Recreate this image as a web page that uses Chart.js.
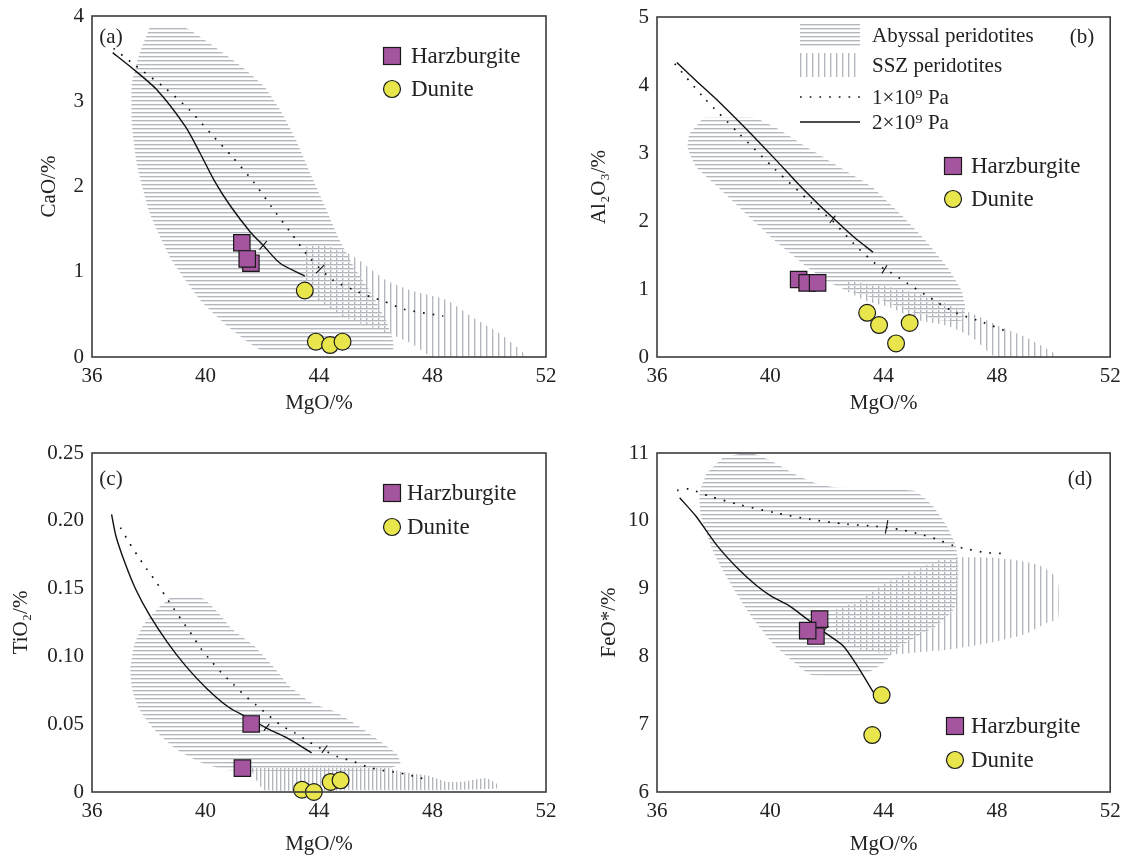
<!DOCTYPE html>
<html><head><meta charset="utf-8">
<script src="https://cdn.jsdelivr.net/npm/chart.js@4.4.1/dist/chart.umd.min.js"></script>
<style>
html,body{margin:0;padding:0;background:#fff;width:1123px;height:857px;overflow:hidden}
canvas{position:absolute;display:block}
</style></head><body>
<canvas id="ca" width="560" height="430" style="left:0;top:0"></canvas>
<canvas id="cb" width="563" height="430" style="left:560px;top:0"></canvas>
<canvas id="cc" width="560" height="427" style="left:0;top:430px"></canvas>
<canvas id="cd" width="563" height="427" style="left:560px;top:430px"></canvas>
<script>
// ---------- shared ticks / labels ----------
const mgoTicks = [36, 40, 44, 48, 52];
const caoTicks = [0, 1, 2, 3, 4];
const al2o3Ticks = [0, 1, 2, 3, 4, 5];
const tio2Ticks = [0, 0.05, 0.10, 0.15, 0.20, 0.25];
const feoTicks = [6, 7, 8, 9, 10, 11];
const xTitle = 'MgO/%';
const yTitles = ['CaO/%', 'Al\u2082O\u2083/%', 'TiO\u2082/%', 'FeO*/%'];
const panelLetters = ['(a)', '(b)', '(c)', '(d)'];
const rockLabels = ['Harzburgite', 'Dunite'];
const fieldLabels = ['Abyssal peridotites', 'SSZ peridotites', '1\u00d710\u2079 Pa', '2\u00d710\u2079 Pa'];

// ---------- panel (a) CaO ----------
const aHarzMgO = [41.6, 41.28, 41.47];
const aHarzCaO = [1.10, 1.34, 1.15];
const aDunMgO = [43.5, 43.89, 44.39, 44.83];
const aDunCaO = [0.78, 0.18, 0.14, 0.18];
const aGPa2MgO = [36.73, 37.41, 38.30, 39.30, 39.81, 40.31, 40.86, 41.57, 42.03, 42.63, 43.5];
const aGPa2CaO = [3.57, 3.39, 3.13, 2.70, 2.39, 2.07, 1.78, 1.47, 1.31, 1.10, 0.95];
const aGPa1MgO = [36.76, 37.37, 38.59, 39.43, 40.19, 40.94, 41.7, 42.33, 43.0, 43.68, 44.5, 45.2, 45.86, 46.24, 47.0, 48.38];
const aGPa1CaO = [3.62, 3.46, 3.15, 2.90, 2.62, 2.35, 2.05, 1.76, 1.46, 1.16, 0.90, 0.79, 0.70, 0.66, 0.56, 0.48];
const aTick2MgO = [41.9, 42.16], aTick2CaO = [1.26, 1.36];
const aTick1MgO = [43.89, 44.19], aTick1CaO = [0.98, 1.08];
const aAbyMgO = [38.04, 39.24, 40.31, 41.3, 42.08, 42.7, 43.2, 43.7, 44.22, 44.73, 45.23, 45.86, 46.36, 46.6, 46.6, 42.0, 40.82, 39.81, 38.8, 38.04, 37.6, 37.41, 37.4, 37.66];
const aAbyCaO = [3.87, 3.87, 3.64, 3.4, 3.17, 2.86, 2.54, 2.15, 1.76, 1.37, 1.06, 0.74, 0.43, 0.2, 0.08, 0.08, 0.35, 0.67, 1.14, 1.68, 2.23, 2.7, 3.2, 3.55];
const aSszMgO = [43.53, 44.1, 44.85, 45.36, 45.86, 46.36, 47.25, 48.5, 49.4, 50.4, 51.2, 51.2, 48.0, 47.25, 46.5, 45.86, 44.85, 44.1, 43.53];
const aSszCaO = [1.29, 1.31, 1.25, 1.15, 1.02, 0.9, 0.78, 0.67, 0.47, 0.27, 0.05, 0.0, 0.0, 0.16, 0.27, 0.35, 0.47, 0.63, 0.78];

// ---------- panel (b) Al2O3 ----------
const bHarzMgO = [41.0, 41.3, 41.67];
const bHarzAl = [1.14, 1.09, 1.09];
const bDunMgO = [43.42, 43.84, 44.44, 44.92];
const bDunAl = [0.65, 0.47, 0.20, 0.50];
const bGPa2MgO = [36.7, 37.39, 38.15, 39.16, 40.17, 40.93, 41.69, 42.2, 42.96, 43.63];
const bGPa2Al = [4.33, 4.06, 3.77, 3.35, 2.91, 2.57, 2.25, 2.05, 1.76, 1.54];
const bGPa1MgO = [36.63, 37.64, 38.91, 40.17, 41.44, 42.2, 42.96, 43.72, 44.22, 44.85, 45.61, 46.5, 47.51, 48.27];
const bGPa1Al = [4.31, 3.82, 3.28, 2.76, 2.27, 2.0, 1.66, 1.37, 1.25, 1.08, 0.88, 0.66, 0.51, 0.39];
const bTick2MgO = [42.1, 42.3], bTick2Al = [1.97, 2.08];
const bTick1MgO = [43.94, 44.12], bTick1Al = [1.23, 1.35];
const bAbyMgO = [37.64, 39.42, 40.17, 41.31, 42.45, 43.59, 44.6, 45.49, 46.25, 46.75, 46.88, 46.8, 46.0, 44.98, 43.97, 42.7, 41.94, 41.31, 40.17, 39.16, 38.15, 37.39, 37.08, 37.14];
const bAbyAl = [3.52, 3.52, 3.38, 3.08, 2.79, 2.5, 2.1, 1.71, 1.32, 0.98, 0.73, 0.54, 0.54, 0.66, 0.83, 0.98, 1.13, 1.32, 1.71, 2.10, 2.5, 2.79, 3.08, 3.28];
const bSszMgO = [42.64, 43.34, 44.22, 45.23, 46.25, 47.13, 48.27, 49.03, 50.04, 50.04, 47.95, 47.13, 46.25, 45.23, 44.22, 43.34, 42.64];
const bSszAl = [1.135, 1.08, 1.03, 0.93, 0.78, 0.64, 0.42, 0.29, 0.05, 0.0, 0.0, 0.29, 0.46, 0.54, 0.73, 0.83, 0.98];

// ---------- panel (c) TiO2 ----------
const cHarzMgO = [41.61, 41.3];
const cHarzTi = [0.0502, 0.0176];
const cDunMgO = [43.4, 43.82, 44.41, 44.76];
const cDunTi = [0.0017, 0.0, 0.0074, 0.0086];
const cGPa2MgO = [36.69, 36.84, 37.16, 37.54, 38.04, 38.67, 39.3, 40.06, 40.82, 41.57, 42.2, 42.83, 43.74];
const cGPa2Ti = [0.2047, 0.189, 0.169, 0.1495, 0.13, 0.110, 0.093, 0.076, 0.0625, 0.054, 0.0466, 0.0404, 0.0289];
const cGPa1MgO = [37.0, 37.31, 37.6, 37.92, 38.26, 38.57, 38.89, 39.2, 39.52, 39.83, 40.19, 40.56, 40.97, 41.36, 41.79, 42.23, 42.67, 43.15, 43.65, 44.16, 44.66, 45.17, 45.73, 46.24, 46.81, 47.37, 47.88];
const cGPa1Ti = [0.195, 0.184, 0.1745, 0.1647, 0.155, 0.145, 0.135, 0.1255, 0.116, 0.106, 0.0968, 0.088, 0.0797, 0.0716, 0.064, 0.0564, 0.049, 0.0436, 0.037, 0.031, 0.026, 0.0228, 0.0184, 0.016, 0.0142, 0.0115, 0.0086];
const cTick2MgO = [42.06, 42.25], cTick2Ti = [0.0453, 0.0502];
const cTick1MgO = [44.1, 44.29], cTick1Ti = [0.0289, 0.0343];
const cAbyMgO = [38.74, 39.87, 40.44, 40.94, 41.7, 42.46, 42.96, 43.72, 44.6, 45.36, 46.11, 46.74, 46.87, 46.24, 40.82, 39.81, 38.93, 38.17, 37.66, 37.41, 37.35, 37.48, 37.79, 38.3];
const cAbyTi = [0.143, 0.143, 0.1324, 0.12, 0.108, 0.0907, 0.078, 0.066, 0.0588, 0.049, 0.038, 0.028, 0.0208, 0.016, 0.016, 0.022, 0.032, 0.0466, 0.061, 0.076, 0.0907, 0.108, 0.1225, 0.135];
const cSszMgO = [41.64, 43.84, 46.24, 46.87, 47.88, 48.5, 49.13, 49.88, 50.27, 50.27, 48.0, 45.36, 42.08, 41.83, 41.64];
const cSszTi = [0.018, 0.0196, 0.019, 0.015, 0.012, 0.0074, 0.0078, 0.0103, 0.006, 0.0025, 0.0012, 0.0012, 0.0012, 0.0074, 0.0147];

// ---------- panel (d) FeO* ----------
const dHarzMgO = [41.61, 41.74, 41.32];
const dHarzFe = [8.30, 8.55, 8.38];
const dDunMgO = [43.93, 43.6];
const dDunFe = [7.43, 6.84];
const dGPa2MgO = [36.8, 37.37, 38.13, 38.89, 39.5, 40.03, 40.66, 41.3, 41.93, 42.56, 43.07, 43.64];
const dGPa2Fe = [10.34, 10.07, 9.63, 9.28, 9.05, 8.89, 8.75, 8.55, 8.35, 8.16, 7.86, 7.47];
const dGPa1MgO = [36.71, 37.11, 37.87, 38.89, 40.15, 41.42, 42.69, 43.7, 44.59, 45.22, 45.86, 46.49, 46.99, 47.63, 48.14];
const dGPa1Fe = [10.45, 10.47, 10.36, 10.24, 10.12, 10.02, 9.95, 9.92, 9.87, 9.81, 9.73, 9.63, 9.58, 9.53, 9.52];
const dTick2MgO = [41.81, 42.06], dTick2Fe = [8.35, 8.45];
const dTick1MgO = [44.06, 44.15], dTick1Fe = [9.81, 10.01];
const dAbyMgO = [38.32, 38.95, 39.4, 39.78, 40.28, 40.79, 41.55, 42.31, 45.1, 45.73, 46.24, 46.55, 46.64, 46.61, 46.49, 45.86, 45.22, 44.46, 44.02, 43.57, 43.2, 41.42, 40.85, 40.15, 39.4, 38.64, 38.0, 37.55, 37.5, 37.75];
const dAbyFe = [10.93, 10.99, 10.99, 10.93, 10.83, 10.7, 10.56, 10.49, 10.44, 10.22, 9.92, 9.63, 9.28, 8.99, 8.7, 8.45, 8.30, 8.11, 7.91, 7.79, 7.72, 7.73, 7.91, 8.16, 8.55, 9.04, 9.53, 10.07, 10.41, 10.7];
const dSszMgO = [42.18, 42.94, 43.70, 44.59, 45.22, 45.86, 46.49, 47.76, 48.52, 49.4, 49.91, 50.16, 50.16, 49.78, 49.02, 47.76, 46.49, 45.22, 44.46, 43.7, 43.07, 42.69, 42.18];
const dSszFe = [8.67, 8.79, 8.99, 9.19, 9.28, 9.41, 9.46, 9.46, 9.43, 9.36, 9.24, 9.09, 8.55, 8.5, 8.33, 8.2, 8.11, 8.06, 8.03, 8.06, 8.11, 8.2, 8.35];

// ---------- styling ----------
const FONT = '"Liberation Serif","Times New Roman",serif';
const TEXT = '#222';
const HARZ = '#a5559f';
const DUN = '#e8e64c';
const LINE = '#111';

function hPattern() {
  const c = document.createElement('canvas'); c.width = 8; c.height = 4;
  const g = c.getContext('2d');
  g.fillStyle = '#b3b7be'; g.fillRect(0, 0, 8, 1);
  g.fillStyle = '#e2e4e7'; g.fillRect(0, 1, 8, 1);
  return g.createPattern(c, 'repeat');
}
function vPattern(p) {
  const c = document.createElement('canvas'); c.width = p; c.height = 8;
  const g = c.getContext('2d');
  g.fillStyle = '#b3b7be'; g.fillRect(0, 0, 1, 8);
  g.fillStyle = '#e2e4e7'; g.fillRect(1, 0, 1, 8);
  return g.createPattern(c, 'repeat');
}
const H_PAT = hPattern();

function pts(xs, ys) { return xs.map((x, i) => ({x: x, y: ys[i]})); }
function field(xs, ys, pat) {
  return {type: 'line', data: pts(xs, ys), fill: 'shape', backgroundColor: pat,
    borderColor: 'rgba(0,0,0,0)', borderWidth: 0, pointRadius: 0, tension: 0.15, order: 5};
}
function curve(xs, ys, dashed) {
  return {type: 'line', data: pts(xs, ys), fill: false, borderColor: LINE,
    borderWidth: dashed ? 1.7 : 1.4, borderDash: dashed ? [1.7, 8] : [], borderCapStyle: 'butt',
    pointRadius: 0, tension: 0.25, order: 2};
}
function tick(xs, ys) {
  return {type: 'line', data: pts(xs, ys), fill: false, borderColor: LINE, borderWidth: 1.1,
    pointRadius: 0, tension: 0, order: 2};
}
function points(xs, ys, kind) {
  const sq = kind === 'harz';
  return {type: 'scatter', data: pts(xs, ys), pointStyle: sq ? 'rect' : 'circle',
    pointRadius: sq ? 11.6 : 8.4, backgroundColor: sq ? HARZ : DUN, borderColor: '#1a1a1a',
    borderWidth: 1.2, clip: false, order: 0};
}

const deco = {
  id: 'deco',
  afterDatasetsDraw(chart, args, o) {
    const {ctx, chartArea: a} = chart;
    ctx.save();
    ctx.strokeStyle = '#3c3c3c'; ctx.lineWidth = 1.6;
    ctx.strokeRect(a.left, a.top, a.right - a.left, a.bottom - a.top);
    ctx.restore();
  },
  afterDraw(chart, args, o) {
    const ctx = chart.ctx;
    ctx.save();
    ctx.fillStyle = TEXT; ctx.textBaseline = 'middle';
    ctx.font = '21px ' + FONT; ctx.textAlign = 'center';
    ctx.fillText(o.letter, o.letterX, o.letterY);
    ctx.textAlign = 'left';
    const L = o.rock;
    const s = 17;
    ctx.fillStyle = HARZ; ctx.strokeStyle = '#1a1a1a'; ctx.lineWidth = 1.2;
    ctx.fillRect(L.x - s / 2, L.y1 - s / 2, s, s); ctx.strokeRect(L.x - s / 2, L.y1 - s / 2, s, s);
    ctx.beginPath(); ctx.arc(L.x, L.y2, 8.5, 0, Math.PI * 2);
    ctx.fillStyle = DUN; ctx.fill(); ctx.stroke();
    ctx.fillStyle = TEXT; ctx.font = '23px ' + FONT;
    ctx.fillText(rockLabels[0], L.tx, L.y1 + 1);
    ctx.fillText(rockLabels[1], L.tx, L.y2 + 1);
    if (o.fields) {
      const F = o.fields;
      ctx.fillStyle = H_PAT; ctx.fillRect(F.x0, F.ys[0] - 11, F.x1 - F.x0, 23);
      ctx.fillStyle = o.vpat; ctx.fillRect(F.x0, F.ys[1] - 12, F.x1 - F.x0, 24);
      ctx.strokeStyle = LINE;
      ctx.beginPath(); ctx.setLineDash([1.7, 8]); ctx.lineWidth = 1.7;
      ctx.moveTo(F.x0, F.ys[2]); ctx.lineTo(F.x1, F.ys[2]); ctx.stroke();
      ctx.beginPath(); ctx.setLineDash([]); ctx.lineWidth = 1.4;
      ctx.moveTo(F.x0, F.ys[3]); ctx.lineTo(F.x1, F.ys[3]); ctx.stroke();
      ctx.fillStyle = TEXT; ctx.font = '21px ' + FONT;
      for (let i = 0; i < 4; i++) ctx.fillText(fieldLabels[i], F.tx, F.ys[i] + 1);
    }
    ctx.restore();
  }
};

function makeChart(id, p) {
  const font = {family: FONT, size: 21};
  return new Chart(document.getElementById(id), {
    type: 'scatter',
    data: {datasets: p.datasets},
    plugins: [deco],
    options: {
      responsive: false, animation: false, devicePixelRatio: 1, events: [],
      layout: {padding: {top: p.top, right: p.right, bottom: 0, left: 0}},
      plugins: {legend: {display: false}, tooltip: {enabled: false}, deco: p.deco},
      scales: {
        x: {
          type: 'linear', min: 36, max: 52,
          afterBuildTicks: s => { s.ticks = mgoTicks.map(v => ({value: v})); },
          afterFit: s => { s.height = p.xh; s.paddingLeft = 0; s.paddingRight = 0; },
          grid: {display: false, drawTicks: false}, border: {display: false},
          ticks: {font: font, color: TEXT, padding: 7, maxRotation: 0, autoSkip: false},
          title: {display: true, text: xTitle, font: font, color: TEXT, padding: {top: 0, bottom: p.xtp}}
        },
        y: {
          type: 'linear', min: p.yTicks[0], max: p.yTicks[p.yTicks.length - 1],
          afterBuildTicks: s => { s.ticks = p.yTicks.map(v => ({value: v})); },
          afterFit: s => { s.width = p.yw; s.paddingTop = 0; s.paddingBottom = 0; },
          grid: {display: false, drawTicks: false}, border: {display: false},
          ticks: {font: font, color: TEXT, padding: 8, autoSkip: false, callback: p.fmt || (v => String(v))},
          title: {display: true, text: p.yTitle, font: font, color: TEXT, padding: {top: p.ytp, bottom: 0}}
        }
      }
    }
  });
}

const V6 = vPattern(6), V4 = vPattern(4);

makeChart('ca', {
  top: 16, right: 14, xh: 73, yw: 92, xtp: 14, ytp: 37, yTicks: caoTicks, yTitle: yTitles[0],
  deco: {letter: panelLetters[0], letterX: 111, letterY: 37, rock: {x: 392, y1: 56, y2: 89, tx: 411}},
  datasets: [
    points(aHarzMgO, aHarzCaO, 'harz'), points(aDunMgO, aDunCaO, 'dun'),
    curve(aGPa2MgO, aGPa2CaO, false), curve(aGPa1MgO, aGPa1CaO, true),
    tick(aTick2MgO, aTick2CaO), tick(aTick1MgO, aTick1CaO),
    field(aAbyMgO, aAbyCaO, H_PAT), field(aSszMgO, aSszCaO, V6)
  ]
});
makeChart('cb', {
  top: 17, right: 12, xh: 73, yw: 97, xtp: 14, ytp: 27, yTicks: al2o3Ticks, yTitle: yTitles[1],
  deco: {letter: panelLetters[1], letterX: 522, letterY: 37, rock: {x: 393, y1: 166, y2: 199, tx: 411},
    vpat: V6, fields: {x0: 240, x1: 300, tx: 312, ys: [35, 65, 97, 122]}},
  datasets: [
    points(bHarzMgO, bHarzAl, 'harz'), points(bDunMgO, bDunAl, 'dun'),
    curve(bGPa2MgO, bGPa2Al, false), curve(bGPa1MgO, bGPa1Al, true),
    tick(bTick2MgO, bTick2Al), tick(bTick1MgO, bTick1Al),
    field(bAbyMgO, bAbyAl, H_PAT), field(bSszMgO, bSszAl, V6)
  ]
});
makeChart('cc', {
  top: 23, right: 14, xh: 65, yw: 92, xtp: 0, ytp: 9, yTicks: tio2Ticks, yTitle: yTitles[2],
  fmt: v => (v === 0 ? '0' : v.toFixed(2)),
  deco: {letter: panelLetters[2], letterX: 111, letterY: 49, rock: {x: 392, y1: 63, y2: 97, tx: 407}},
  datasets: [
    points(cHarzMgO, cHarzTi, 'harz'), points(cDunMgO, cDunTi, 'dun'),
    curve(cGPa2MgO, cGPa2Ti, false), curve(cGPa1MgO, cGPa1Ti, true),
    tick(cTick2MgO, cTick2Ti), tick(cTick1MgO, cTick1Ti),
    field(cAbyMgO, cAbyTi, H_PAT), field(cSszMgO, cSszTi, V4)
  ]
});
makeChart('cd', {
  top: 23, right: 12, xh: 65, yw: 97, xtp: 0, ytp: 37, yTicks: feoTicks, yTitle: yTitles[3],
  deco: {letter: panelLetters[3], letterX: 520, letterY: 49, rock: {x: 395, y1: 296, y2: 330, tx: 411}},
  datasets: [
    points(dHarzMgO, dHarzFe, 'harz'), points(dDunMgO, dDunFe, 'dun'),
    curve(dGPa2MgO, dGPa2Fe, false), curve(dGPa1MgO, dGPa1Fe, true),
    tick(dTick2MgO, dTick2Fe), tick(dTick1MgO, dTick1Fe),
    field(dAbyMgO, dAbyFe, H_PAT), field(dSszMgO, dSszFe, V6)
  ]
});
</script>
</body></html>
